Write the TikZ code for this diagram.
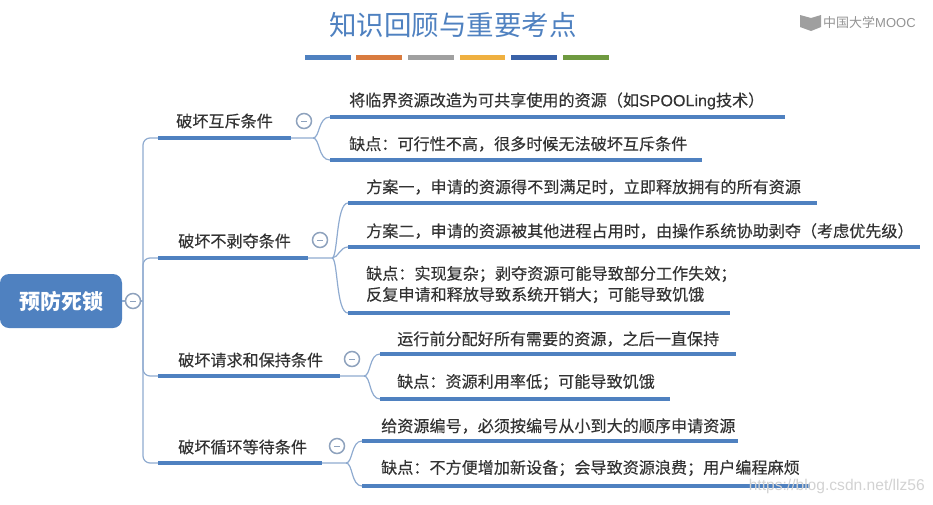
\documentclass[tikz,border=0pt]{standalone}
\usepackage{fontspec}
\setmainfont{Noto Sans CJK SC}
\newfontfamily\latinfont{Liberation Sans}
\newfontfamily\labfont[FakeBold=0.25]{Noto Sans CJK SC}
\newfontfamily\lablatin[FakeBold=0.25]{Liberation Sans}
\usetikzlibrary{calc}
\definecolor{mblue}{HTML}{4F81C0}
\definecolor{lineblue}{HTML}{8FABD0}
\definecolor{txt}{HTML}{333333}
\definecolor{circ}{HTML}{8EA2BD}
\tikzset{
  root/.style={fill=mblue,rounded corners=9pt,text=white,font=\fontsize{21}{23}\selectfont\bfseries,inner sep=0pt},
  lab/.style={text=txt,font=\labfont\fontsize{16.1}{21}\selectfont,inner sep=0pt,align=left,anchor=west},
  thick bar/.style={line width=4pt,draw=mblue},
  wire/.style={line width=1.2pt,draw=lineblue,rounded corners=7pt},
  curve/.style={line width=1.2pt,draw=lineblue},
  knob/.style={circle,draw=circ,line width=1.5pt,fill=white,minimum size=15pt,inner sep=0pt},
  tick/.style={line width=1pt,draw=circ},
  swatch/.style={line width=5pt},
  titletext/.style={text=mblue,font=\fontsize{27.5}{30}\selectfont,inner sep=0pt}
}
\begin{document}
\begin{tikzpicture}[x=1pt,y=-1pt]
\useasboundingbox (0,0) rectangle (933,504);
% title
\node[titletext] (title) at (453,25) {知识回顾与重要考点};
\foreach \xa/\xb/\c in {305/351/4F81C0,356/402/D97B3F,408/454/A0A0A0,460/505/EFB040,511/557/3A62A8,563/609/6F9A40}{
  \definecolor{sw}{HTML}{\c}
  \draw[swatch,draw=sw] (\xa,57.5) -- (\xb,57.5);
}
% logo
\fill[gray!75] (800,15) -- (811,18) -- (821,15) -- (821,27) -- (811,31) -- (800,27) -- cycle;
\node[text=gray!85,font=\fontsize{13}{16}\selectfont,inner sep=0pt,anchor=west] (logo) at (823,22) {中国大学{\latinfont MOOC}};
% root
\node[root,minimum width=122pt,minimum height=54pt] (rootn) at (61,301) {预防死锁};
\coordinate (trunk) at (143,301);
% level-1 coordinates
\coordinate (a1) at (158,138); \coordinate (a2) at (308,138);
\coordinate (a1e) at (291,138);
\coordinate (b1) at (158,258); \coordinate (b2) at (308,258);
\coordinate (c1) at (158,376); \coordinate (c2) at (340,376);
\coordinate (d1) at (158,463); \coordinate (d2) at (322,463);
% trunk wires
\draw[wire] (a1) -| (trunk) |- (d1);
\draw[wire] (trunk) |- (b1);
\draw[wire] (trunk) |- (c1);
\draw[curve] (rootn.east) -- (trunk);
\draw[thick bar] (a1) -- (a1e);
\draw[thick bar] (b1) -- (b2);
\draw[thick bar] (c1) -- (c2);
\draw[thick bar] (d1) -- (d2);
\node[lab] (at) at (176,121) {破坏互斥条件};
\node[lab] (bt) at (178,241) {破坏不剥夺条件};
\node[lab] (ct) at (178,360) {破坏请求和保持条件};
\node[lab] (dt) at (178,447) {破坏循环等待条件};
% child bars
\coordinate (a3) at (313,138);
\coordinate (a11) at (330,117); \coordinate (a12) at (785,117);
\coordinate (a21) at (330,160); \coordinate (a22) at (702,160);
\draw[curve] (a1e) -- (a3) .. controls (320,138) and (318,117) .. (a11);
\draw[curve] (a3) .. controls (320,138) and (318,160) .. (a21);
\draw[thick bar] (a11) -- (a12);
\draw[thick bar] (a21) -- (a22);
\node[lab] (at1) at (349,101) {将临界资源改造为可共享使用的资源（如{\lablatin SPOOLing}技术）};
\node[lab] (at2) at (349,144) {缺点：可行性不高，很多时候无法破坏互斥条件};
\coordinate (b3) at (332,258);
\coordinate (b11) at (348,203); \coordinate (b12) at (817,203);
\coordinate (b21) at (348,247); \coordinate (b22) at (920,247);
\coordinate (b31) at (348,313); \coordinate (b32) at (730,313);
\draw[curve] (b2) -- (b3) .. controls (338,258) and (336,203) .. (b11);
\draw[curve] (b3) .. controls (338,258) and (340,247) .. (b21);
\draw[curve] (b3) .. controls (338,258) and (336,313) .. (b31);
\draw[thick bar] (b11) -- (b12);
\draw[thick bar] (b21) -- (b22);
\draw[thick bar] (b31) -- (b32);
\node[lab] (bt1) at (366,187) {方案一，申请的资源得不到满足时，立即释放拥有的所有资源};
\node[lab] (bt2) at (366,231) {方案二，申请的资源被其他进程占用时，由操作系统协助剥夺（考虑优先级）};
\node[lab] (bt3) at (366,284.5) {缺点：实现复杂；剥夺资源可能导致部分工作失效；\\反复申请和释放导致系统开销大；可能导致饥饿};
\coordinate (c3) at (364,376);
\coordinate (c11) at (380,354); \coordinate (c12) at (736,354);
\coordinate (c21) at (380,399); \coordinate (c22) at (670,399);
\draw[curve] (c2) -- (c3) .. controls (371,376) and (369,354) .. (c11);
\draw[curve] (c3) .. controls (371,376) and (369,399) .. (c21);
\draw[thick bar] (c11) -- (c12);
\draw[thick bar] (c21) -- (c22);
\node[lab] (ct1) at (397,339) {运行前分配好所有需要的资源，之后一直保持};
\node[lab] (ct2) at (397,382) {缺点：资源利用率低；可能导致饥饿};
\coordinate (d3) at (346,463);
\coordinate (d11) at (362,441); \coordinate (d12) at (738,441);
\coordinate (d21) at (362,486); \coordinate (d22) at (810,486);
\draw[curve] (d2) -- (d3) .. controls (353,463) and (351,441) .. (d11);
\draw[curve] (d3) .. controls (353,463) and (351,486) .. (d21);
\draw[thick bar] (d11) -- (d12);
\draw[thick bar] (d21) -- (d22);
\node[lab] (dt1) at (381,426) {给资源编号，必须按编号从小到大的顺序申请资源};
\node[lab] (dt2) at (381,468) {缺点：不方便增加新设备；会导致资源浪费；用户编程麻烦};
% knobs
\foreach \n/\x/\y in {k0/133/301,k1/304/121,k2/320/240,k3/352/359,k4/337/446}{
  \node[knob] (\n) at (\x,\y) {};
  \draw[tick] ($(\n)+(-3,0)$) -- ($(\n)+(3,0)$);
}
% watermark
\node[text=gray!35,font=\latinfont\fontsize{15.6}{17}\selectfont,inner sep=0pt,anchor=east] (wm) at (925,486) {https://blog.csdn.net/llz56};
\end{tikzpicture}
\end{document}
